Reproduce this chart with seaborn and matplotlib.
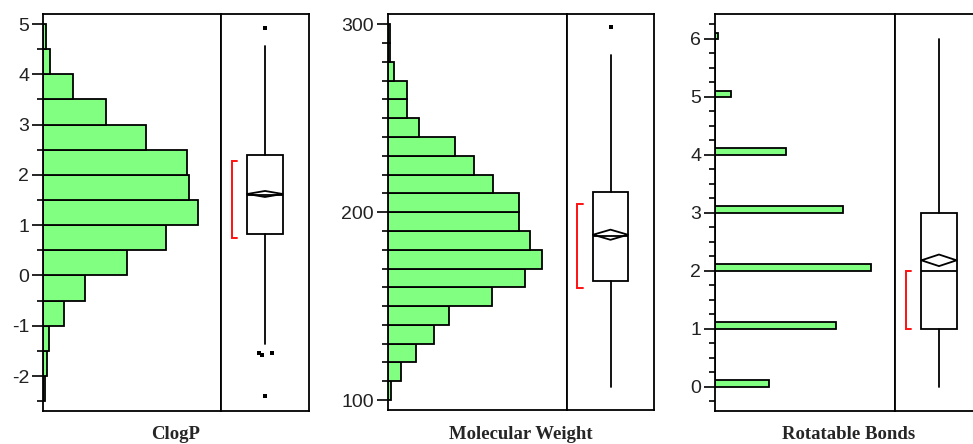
import matplotlib
matplotlib.use("Agg")
import matplotlib.pyplot as plt
from matplotlib.ticker import MultipleLocator
import seaborn as sns

# ---------------- data ----------------
# ClogP histogram
clogp_edges = [-2.5, -2.0, -1.5, -1.0, -0.5, 0.0, 0.5, 1.0, 1.5, 2.0, 2.5, 3.0, 3.5, 4.0, 4.5, 5.0]
clogp_counts = [2.3, 3.7, 5.7, 21, 42, 84, 123, 155, 146, 144, 103, 63, 30, 7, 2.7]
clogp_box = dict(q1=0.83, med=1.60, q3=2.40, whislo=-1.36, whishi=4.57)
clogp_fliers = [4.93, -1.54, -1.58, -1.54, -2.40]
clogp_flier_jitter = [0.0, -0.07, -0.03, 0.08, 0.0]
clogp_mean, clogp_ci = 1.62, 0.06
clogp_short = [0.75, 2.28]

# Molecular weight histogram
mw_edges = [100, 110, 120, 130, 140, 150, 160, 170, 180, 190, 200,
            210, 220, 230, 240, 250, 260, 270, 280, 290, 300]
mw_counts = [3.3, 13.3, 28.3, 46.3, 60.7, 104, 137, 154, 142, 131,
             131, 105, 86, 67, 31, 19, 19, 5.7, 2, 1.5]
mw_box = dict(q1=163.5, med=187.3, q3=210.9, whislo=106.7, whishi=283.7)
mw_fliers = [298.4]
mw_flier_jitter = [0.0]
mw_mean, mw_ci = 188.0, 2.7
mw_short = [159.4, 204.2]

# Rotatable bonds histogram (integer valued)
rb_values = [0, 1, 2, 3, 4, 5, 6]
rb_counts = [54, 120.7, 155.7, 128.3, 71, 15.7, 2.7]
rb_bar_height = 0.11
rb_box = dict(q1=1.0, med=2.0, q3=3.0, whislo=0.0, whishi=6.0)
rb_fliers = []
rb_flier_jitter = []
rb_mean, rb_ci = 2.18, 0.10
rb_short = [1.0, 2.0]

titles = ["ClogP", "Molecular Weight", "Rotatable Bonds"]

# ---------------- style ----------------
sns.set_style("white")
plt.rcParams['font.family'] = ['Liberation Sans', 'DejaVu Sans']
plt.rcParams['axes.unicode_minus'] = False

W, H = 973, 444
fig = plt.figure(figsize=(W / 100, H / 100), dpi=100)
GREEN = "#80ff80"

def fx(px):
    return px / W

def fy(py):
    return 1 - py / H

panels = [
    dict(l=43, d=221, r=309, t=14, b=411, ylim=(-2.696, 5.199), xmax=178),
    dict(l=388, d=567, r=654, t=14, b=410, ylim=(94.7, 305.5), xmax=179),
    dict(l=715, d=895, r=983, t=14, b=411, ylim=(-0.42, 6.43), xmax=180),
]

datasets = [
    dict(kind="hist", centers=[(a + b) / 2 for a, b in zip(clogp_edges[:-1], clogp_edges[1:])],
         weights=clogp_counts, bins=clogp_edges, box=clogp_box, fliers=clogp_fliers,
         jit=clogp_flier_jitter, mean=clogp_mean, ci=clogp_ci, short=clogp_short,
         major=1, minor=0.5),
    dict(kind="hist", centers=[(a + b) / 2 for a, b in zip(mw_edges[:-1], mw_edges[1:])],
         weights=mw_counts, bins=mw_edges, box=mw_box, fliers=mw_fliers,
         jit=mw_flier_jitter, mean=mw_mean, ci=mw_ci, short=mw_short,
         major=100, minor=10),
    dict(kind="rb", box=rb_box, fliers=rb_fliers, jit=rb_flier_jitter,
         mean=rb_mean, ci=rb_ci, short=rb_short, major=1, minor=0.25),
]

LW = 1.3
for p, ds, title in zip(panels, datasets, titles):
    bottom = fy(p["b"])
    height = (p["b"] - p["t"]) / H
    axh = fig.add_axes([fx(p["l"]), bottom, (p["d"] - p["l"]) / W, height])
    axb = fig.add_axes([fx(p["d"]), bottom, (p["r"] - p["d"]) / W, height], sharey=axh)

    if ds["kind"] == "hist":
        sns.histplot(y=ds["centers"], weights=ds["weights"], bins=ds["bins"], ax=axh,
                     color=GREEN, edgecolor="black", linewidth=LW, alpha=1)
    else:
        edges = []
        for v in rb_values:
            edges += [v, v + rb_bar_height]
        centers = [v + rb_bar_height / 2 for v in rb_values]
        sns.histplot(y=centers, weights=rb_counts, bins=edges, ax=axh,
                     color=GREEN, edgecolor="black", linewidth=LW, alpha=1)

    axh.set_xlim(0, p["xmax"])
    axh.set_ylim(*p["ylim"])
    axh.set_xlabel("")
    axh.set_ylabel("")
    axh.set_xticks([])
    axh.yaxis.set_major_locator(MultipleLocator(ds["major"]))
    axh.yaxis.set_minor_locator(MultipleLocator(ds["minor"]))
    axh.tick_params(axis="y", which="major", direction="out", length=8, width=1.2,
                    labelsize=14, pad=2, colors="black", labelcolor="#222222", left=True)
    axh.tick_params(axis="y", which="minor", direction="out", length=4, width=1.2,
                    colors="black", left=True)
    for s in axh.spines.values():
        s.set_color("black")
        s.set_linewidth(LW)
        s.set_visible(True)

    # box plot
    st = dict(ds["box"])
    st["fliers"] = []
    axb.bxp([st], positions=[0.5], widths=0.40, showcaps=False, showfliers=False,
            patch_artist=True,
            boxprops=dict(facecolor="white", edgecolor="black", linewidth=LW),
            medianprops=dict(color="black", linewidth=LW),
            whiskerprops=dict(color="black", linewidth=LW))
    if ds["fliers"]:
        axb.scatter([0.5 + j for j in ds["jit"]], ds["fliers"], marker="s", s=10,
                    color="black", zorder=5, linewidths=0)
    # mean diamond
    m, c = ds["mean"], ds["ci"]
    axb.plot([0.3, 0.5, 0.7, 0.5, 0.3], [m, m + c, m, m - c, m],
             color="black", linewidth=LW, zorder=4)
    # shortest half bracket
    lo, hi = ds["short"]
    axb.plot([0.18, 0.12, 0.12, 0.18], [hi, hi, lo, lo], color="#ff1010",
             linewidth=1.4, solid_joinstyle="miter")
    axb.set_xlim(0, 1)
    axb.set_xticks([])
    axb.tick_params(axis="y", which="both", left=False, labelleft=False)
    for s in axb.spines.values():
        s.set_color("black")
        s.set_linewidth(LW)
        s.set_visible(True)

    fig.text(fx((p["l"] + p["r"]) / 2), fy(434), title, ha="center", va="center",
             fontsize=13.5, fontweight="bold", family=["Liberation Serif", "DejaVu Serif"])

fig.savefig("out.png", dpi=100)
